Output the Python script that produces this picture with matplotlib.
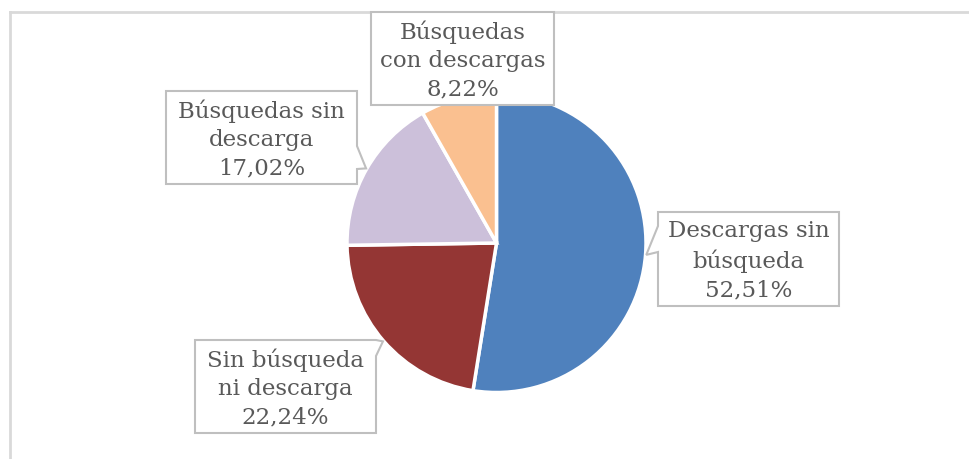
import numpy as np
import matplotlib
matplotlib.use("Agg")
import matplotlib.pyplot as plt
from matplotlib.patches import Polygon

# ---- data ----
categories = ["Descargas sin\nbúsqueda", "Sin búsqueda\nni descarga",
              "Búsquedas sin\ndescarga", "Búsquedas\ncon descargas"]
values = [52.51, 22.24, 17.02, 8.22]
value_labels = ["52,51%", "22,24%", "17,02%", "8,22%"]
colors = ["#4F81BD", "#943634", "#CCC0DA", "#FAC090"]

W, H = 970, 460
fig = plt.figure(figsize=(W / 100, H / 100), dpi=100)
ax = fig.add_axes([0, 0, 1, 1])

cx, cy, r = 496.5, 244.0, 149.5   # image coords (y down)

def Y(y):
    return H - y

wedges, _ = ax.pie(values, colors=colors, startangle=90, counterclock=False,
                   center=(cx, Y(cy)), radius=r,
                   wedgeprops=dict(edgecolor="white", linewidth=2.5))
ax.set_xlim(0, W)
ax.set_ylim(0, H)
ax.set_aspect("auto")
ax.axis("off")

# outer frame (only top and left edges visible)
ax.plot([10, 10], [Y(13), Y(470)], color="#D9D9D9", lw=2, zorder=1, clip_on=False)
ax.plot([10, 975], [Y(13), Y(13)], color="#D9D9D9", lw=2, zorder=1, clip_on=False)

def tip_of(w):
    th = np.deg2rad((w.theta1 + w.theta2) / 2)
    return (w.center[0] + r * 1.005 * np.cos(th), w.center[1] + r * 1.005 * np.sin(th))

# box layouts: (x0, y0, x1, y1) image coords, notch side, notch range
boxes = [
    dict(box=(658, 213, 839, 307), side="left", rng=(227, 253)),
    dict(box=(195, 341, 376, 434), side="right", rng=(341, 357)),
    dict(box=(166, 92, 357, 185), side="right", rng=(147, 170)),
    dict(box=(371, 13, 554, 106), side=None, rng=None),
]

for w, lab, val, b in zip(wedges, categories, value_labels, boxes):
    x0, y0, x1, y1 = b["box"]
    tip = tip_of(w)
    if b["side"] == "left":
        pts = [(x0, Y(y0)), (x1, Y(y0)), (x1, Y(y1)), (x0, Y(y1)),
               (x0, Y(b["rng"][1])), tip, (x0, Y(b["rng"][0]))]
    elif b["side"] == "right":
        pts = [(x0, Y(y0)), (x1, Y(y0)), (x1, Y(b["rng"][0])), tip,
               (x1, Y(b["rng"][1])), (x1, Y(y1)), (x0, Y(y1))]
    else:
        pts = [(x0, Y(y0)), (x1, Y(y0)), (x1, Y(y1)), (x0, Y(y1))]
    poly = Polygon(pts, closed=True, facecolor="white", edgecolor="#BFBFBF",
                   lw=1.5, zorder=5, joinstyle="miter")
    ax.add_patch(poly)
    ax.text((x0 + x1) / 2, Y((y0 + y1) / 2 + 1), lab + "\n" + val,
            ha="center", va="center", fontsize=16.5, family="DejaVu Serif",
            color="#595959", linespacing=1.39, zorder=6)

fig.savefig("out.png", dpi=100)
